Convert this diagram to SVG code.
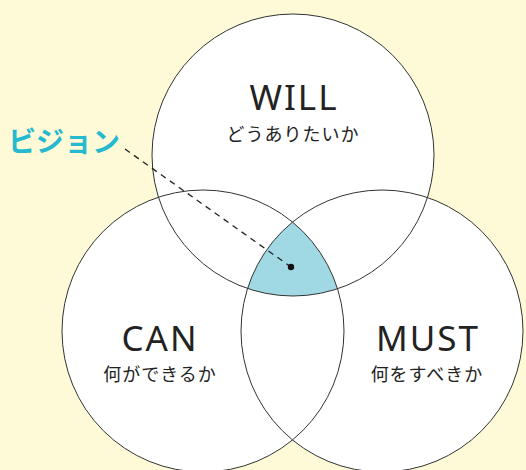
<svg xmlns="http://www.w3.org/2000/svg" width="526" height="470" viewBox="0 0 526 470">
<style>
.f{fill:#ffffff;stroke:none}
.s{fill:none;stroke:#333333;stroke-width:1}
.en{font-family:"Noto Sans","Open Sans","Liberation Sans",sans-serif;font-size:35px;fill:#222222;text-anchor:middle;letter-spacing:2px}
.jp{font-family:"Noto Sans CJK JP","Noto Sans",sans-serif;font-size:18px;fill:#222222;text-anchor:middle;letter-spacing:1px}
</style>
<defs>
<clipPath id="clipL"><circle cx="203" cy="331" r="141"/></clipPath>
<clipPath id="clipR"><circle cx="382" cy="331" r="141"/></clipPath>
</defs>
<rect x="0" y="0" width="526" height="470" fill="#fefad8"/>
<g id="fills">
<circle class="f" cx="203" cy="331" r="141"/>
<circle class="f" cx="382" cy="331" r="141"/>
<circle class="f" cx="293" cy="155" r="141"/>
</g>
<g id="overlap" clip-path="url(#clipL)">
<circle cx="293" cy="155" r="141" fill="#a0d8e3" clip-path="url(#clipR)"/>
</g>
<g id="will">
<circle class="s" cx="293" cy="155" r="141"/>
<text class="en" x="294" y="110">WILL</text>
<text class="jp" x="293" y="141">どうありたいか</text>
</g>
<g id="can">
<circle class="s" cx="203" cy="331" r="141"/>
<text class="en" x="160" y="351">CAN</text>
<text class="jp" x="160" y="381">何ができるか</text>
</g>
<g id="must">
<circle class="s" cx="382" cy="331" r="141"/>
<text class="en" x="428" y="351">MUST</text>
<text class="jp" x="427" y="381">何をすべきか</text>
</g>
<g id="connectors">
<line x1="125" y1="149" x2="291" y2="267" stroke="#222222" stroke-width="1.3" stroke-dasharray="6,5"/>
<circle cx="291" cy="267" r="3.2" fill="#111111"/>
</g>
<g id="vision">
<text x="8" y="152" font-family="Noto Sans CJK JP,sans-serif" font-weight="bold" font-size="28" fill="#25b9cf">ビジョン</text>
</g>
</svg>
